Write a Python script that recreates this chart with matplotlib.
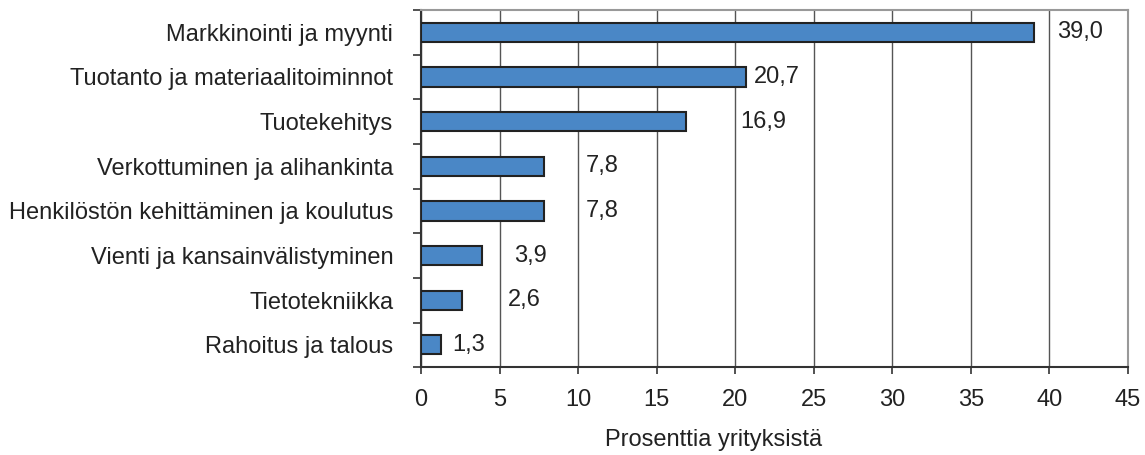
import numpy as np
import matplotlib
matplotlib.use("Agg")
import matplotlib.pyplot as plt

plt.rcParams['font.family'] = ['Liberation Sans', 'DejaVu Sans']

# data
kategoriat = ["Markkinointi ja myynti",
              "Tuotanto ja materiaalitoiminnot",
              "Tuotekehitys",
              "Verkottuminen ja alihankinta",
              "Henkilöstön kehittäminen ja koulutus",
              "Vienti ja kansainvälistyminen",
              "Tietotekniikka",
              "Rahoitus ja talous"]
arvot = [39.0, 20.7, 16.9, 7.8, 7.8, 3.9, 2.6, 1.3]
# label offsets (data units) as in the original picture
siirto = [1.5, 0.5, 3.4, 2.7, 2.7, 2.0, 2.9, 0.7]

fig = plt.figure(figsize=(11.45, 4.55), dpi=100)
ax = fig.add_axes([0.3677, 0.193, 0.985 - 0.3677, 0.978 - 0.193])

y = np.arange(len(kategoriat))
ax.barh(y, arvot, height=0.43, color="#4a87c6", edgecolor="#222222", linewidth=1.5, zorder=3)

for i in range(len(arvot)):
    ax.text(arvot[i] + siirto[i], y[i], ("%.1f" % arvot[i]).replace(".", ","),
            va="center", ha="left", fontsize=17, color="#222222")

ax.set_xlim(0, 45)
ax.set_ylim(len(kategoriat) - 0.5, -0.5)
ax.set_xticks(np.arange(0, 46, 5))
ax.set_yticks(y)
ax.set_yticklabels(kategoriat, fontsize=17, color="#222222")
ax.set_yticks(np.arange(-0.5, len(kategoriat), 1), minor=True)
ax.tick_params(axis="y", which="major", length=0, pad=20)
ax.tick_params(axis="y", which="minor", length=6, width=1.2, color="#333333")
ax.tick_params(axis="x", length=5, width=1.2, color="#333333", labelsize=17,
               labelcolor="#222222", pad=11)

ax.xaxis.grid(True, color="#555555", linewidth=1, zorder=0)
ax.set_axisbelow(True)
for s in ["top", "right"]:
    ax.spines[s].set_color("#999999")
    ax.spines[s].set_linewidth(1.5)
for s in ["left", "bottom"]:
    ax.spines[s].set_color("#333333")
    ax.spines[s].set_linewidth(1.5)

ax.set_xlabel("Prosenttia yrityksistä", fontsize=17, color="#222222")
ax.xaxis.label.set_va("center")
ax.xaxis.set_label_coords(0.414, -0.205)

fig.savefig("out.png", dpi=100)
